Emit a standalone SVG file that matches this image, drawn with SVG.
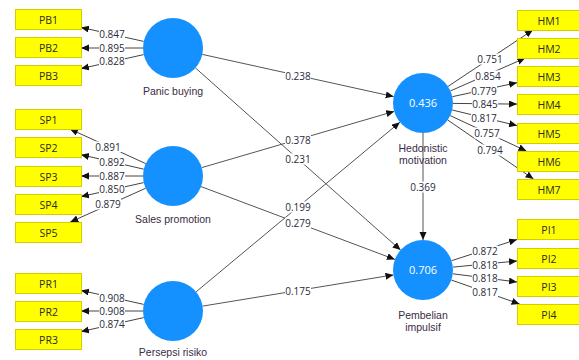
<svg xmlns="http://www.w3.org/2000/svg" width="579" height="360" viewBox="0 0 579 360">
<defs>
<marker id="ah" markerWidth="9" markerHeight="8" refX="8" refY="3.5" orient="auto" markerUnits="userSpaceOnUse"><path d="M0,0 L8,3.5 L0,7 z" fill="#111"/></marker>
<style>
.box{fill:#FFFF00;stroke:#D6CC00;stroke-width:1}
.bt{font-family:"Open Sans","DejaVu Sans",sans-serif;font-size:10.5px;fill:#2a2a2a;text-anchor:middle}
.lv{fill:#1591FF}
.lt{font-family:"Liberation Sans",Arial,sans-serif;font-size:10.5px;fill:#3b2b45;text-anchor:middle}
.r2{font-family:"Open Sans","DejaVu Sans",sans-serif;font-size:11px;fill:#ffffff;text-anchor:middle}
.ln{stroke:#444;stroke-width:1;fill:none;marker-end:url(#ah)}
.ls{stroke:#555;stroke-width:1;fill:none;marker-end:url(#ah)}
.nb{fill:#ffffff}
.nt{font-family:"Open Sans","DejaVu Sans",sans-serif;font-size:10px;fill:#2a2a3a;text-anchor:middle}
</style>
</defs>
<rect width="579" height="360" fill="#ffffff"/>
<g id="connectors">
<line class="ln" x1="143.7" y1="41.4" x2="81" y2="27.4"/>
<line class="ln" x1="143" y1="48" x2="81" y2="48"/>
<line class="ln" x1="143.7" y1="54.6" x2="81" y2="68.6"/>
<line class="ln" x1="145.7" y1="163.6" x2="69.9" y2="129"/>
<line class="ln" x1="143.8" y1="169.2" x2="81" y2="154.7"/>
<line class="ln" x1="143" y1="176" x2="81" y2="176"/>
<line class="ln" x1="143.7" y1="182.6" x2="81" y2="196.6"/>
<line class="ln" x1="145.6" y1="188.3" x2="70.3" y2="222"/>
<line class="ln" x1="143.7" y1="304.4" x2="81" y2="290.4"/>
<line class="ln" x1="143" y1="311" x2="81" y2="311"/>
<line class="ln" x1="143.7" y1="317.6" x2="81" y2="331.6"/>
<line class="ln" x1="448" y1="86.4" x2="532.9" y2="30"/>
<line class="ln" x1="450.5" y1="90.9" x2="525.3" y2="58"/>
<line class="ln" x1="452.3" y1="96.7" x2="517" y2="82.7"/>
<line class="ln" x1="453" y1="103.4" x2="517" y2="104.1"/>
<line class="ln" x1="452.2" y1="110" x2="517" y2="125.6"/>
<line class="ln" x1="450.2" y1="115.6" x2="526.4" y2="151"/>
<line class="ln" x1="447.7" y1="120" x2="533.5" y2="179"/>
<line class="ln" x1="451.5" y1="260.7" x2="517" y2="239.5"/>
<line class="ln" x1="452.9" y1="267.1" x2="517" y2="261"/>
<line class="ln" x1="452.8" y1="273.8" x2="517" y2="282"/>
<line class="ln" x1="451.3" y1="280" x2="519.6" y2="304"/>
<line class="ls" x1="202.3" y1="54.4" x2="393.7" y2="96.6"/>
<line class="ls" x1="195.4" y1="67.9" x2="400.6" y2="250.1"/>
<line class="ls" x1="201.8" y1="167.6" x2="394.2" y2="111.4"/>
<line class="ls" x1="201.1" y1="186.6" x2="394.9" y2="259.4"/>
<line class="ls" x1="196.1" y1="291.8" x2="399.9" y2="122.2"/>
<line class="ls" x1="202.6" y1="306.1" x2="393.4" y2="274.9"/>
<line class="ls" x1="423" y1="133" x2="423" y2="240"/>
<g>
<rect class="nb" x="99" y="28.5" width="26" height="11"/><text class="nt" x="112" y="37.5">0.847</text>
<rect class="nb" x="99" y="42.5" width="26" height="11"/><text class="nt" x="112" y="51.5">0.895</text>
<rect class="nb" x="99" y="56" width="26" height="11"/><text class="nt" x="112" y="65">0.828</text>
<rect class="nb" x="95" y="141.5" width="26" height="11"/><text class="nt" x="108" y="150.5">0.891</text>
<rect class="nb" x="99" y="156.5" width="26" height="11"/><text class="nt" x="112" y="165.5">0.892</text>
<rect class="nb" x="99" y="170.5" width="26" height="11"/><text class="nt" x="112" y="179.5">0.887</text>
<rect class="nb" x="99" y="183.5" width="26" height="11"/><text class="nt" x="112" y="192.5">0.850</text>
<rect class="nb" x="95" y="198.5" width="26" height="11"/><text class="nt" x="108" y="207.5">0.879</text>
<rect class="nb" x="99" y="292.5" width="26" height="11"/><text class="nt" x="112" y="301.5">0.908</text>
<rect class="nb" x="99" y="305.5" width="26" height="11"/><text class="nt" x="112" y="314.5">0.908</text>
<rect class="nb" x="99" y="318.5" width="26" height="11"/><text class="nt" x="112" y="327.5">0.874</text>
<rect class="nb" x="477" y="53.5" width="26" height="11"/><text class="nt" x="490" y="62.5">0.751</text>
<rect class="nb" x="475" y="70.5" width="26" height="11"/><text class="nt" x="488" y="79.5">0.854</text>
<rect class="nb" x="471" y="85.5" width="26" height="11"/><text class="nt" x="484" y="94.5">0.779</text>
<rect class="nb" x="472" y="98.5" width="26" height="11"/><text class="nt" x="485" y="107.5">0.845</text>
<rect class="nb" x="471" y="112.5" width="26" height="11"/><text class="nt" x="484" y="121.5">0.817</text>
<rect class="nb" x="474" y="127.5" width="26" height="11"/><text class="nt" x="487" y="136.5">0.757</text>
<rect class="nb" x="477" y="144.5" width="26" height="11"/><text class="nt" x="490" y="153.5">0.794</text>
<rect class="nb" x="472" y="245.5" width="26" height="11"/><text class="nt" x="485" y="254.5">0.872</text>
<rect class="nb" x="472" y="259.5" width="26" height="11"/><text class="nt" x="485" y="268.5">0.818</text>
<rect class="nb" x="472" y="272.5" width="26" height="11"/><text class="nt" x="485" y="281.5">0.818</text>
<rect class="nb" x="472" y="286.5" width="26" height="11"/><text class="nt" x="485" y="295.5">0.817</text>
<rect class="nb" x="285" y="70.5" width="26" height="11"/><text class="nt" x="298" y="79.5">0.238</text>
<rect class="nb" x="285" y="134.5" width="26" height="11"/><text class="nt" x="298" y="143.5">0.378</text>
<rect class="nb" x="285" y="153.5" width="26" height="11"/><text class="nt" x="298" y="162.5">0.231</text>
<rect class="nb" x="285" y="201.5" width="26" height="11"/><text class="nt" x="298" y="210.5">0.199</text>
<rect class="nb" x="285" y="217.5" width="26" height="11"/><text class="nt" x="298" y="226.5">0.279</text>
<rect class="nb" x="285" y="285.5" width="26" height="11"/><text class="nt" x="298" y="294.5">0.175</text>
<rect class="nb" x="410" y="181.5" width="26" height="11"/><text class="nt" x="423" y="190.5">0.369</text>
</g>
</g>
<g id="PB1"><rect class="box" x="15.5" y="9.5" width="66" height="20"/><text class="bt" x="48.5" y="23.5">PB1</text></g>
<g id="PB2"><rect class="box" x="15.5" y="37.5" width="66" height="20"/><text class="bt" x="48.5" y="51.5">PB2</text></g>
<g id="PB3"><rect class="box" x="15.5" y="65.5" width="66" height="20"/><text class="bt" x="48.5" y="79.5">PB3</text></g>
<g id="SP1"><rect class="box" x="15.5" y="109.5" width="66" height="20"/><text class="bt" x="48.5" y="123.5">SP1</text></g>
<g id="SP2"><rect class="box" x="15.5" y="137.5" width="66" height="20"/><text class="bt" x="48.5" y="151.5">SP2</text></g>
<g id="SP3"><rect class="box" x="15.5" y="166.5" width="66" height="20"/><text class="bt" x="48.5" y="180.5">SP3</text></g>
<g id="SP4"><rect class="box" x="15.5" y="194.5" width="66" height="20"/><text class="bt" x="48.5" y="208.5">SP4</text></g>
<g id="SP5"><rect class="box" x="15.5" y="222.5" width="66" height="20"/><text class="bt" x="48.5" y="236.5">SP5</text></g>
<g id="PR1"><rect class="box" x="15.5" y="273.5" width="66" height="20"/><text class="bt" x="48.5" y="287.5">PR1</text></g>
<g id="PR2"><rect class="box" x="15.5" y="301.5" width="66" height="20"/><text class="bt" x="48.5" y="315.5">PR2</text></g>
<g id="PR3"><rect class="box" x="15.5" y="329.5" width="66" height="20"/><text class="bt" x="48.5" y="343.5">PR3</text></g>
<g id="HM1"><rect class="box" x="517.5" y="10.5" width="62" height="20"/><text class="bt" x="549" y="24.5">HM1</text></g>
<g id="HM2"><rect class="box" x="517.5" y="38.5" width="62" height="20"/><text class="bt" x="549" y="52.5">HM2</text></g>
<g id="HM3"><rect class="box" x="517.5" y="66.5" width="62" height="20"/><text class="bt" x="549" y="80.5">HM3</text></g>
<g id="HM4"><rect class="box" x="517.5" y="94.5" width="62" height="20"/><text class="bt" x="549" y="108.5">HM4</text></g>
<g id="HM5"><rect class="box" x="517.5" y="123.5" width="62" height="20"/><text class="bt" x="549" y="137.5">HM5</text></g>
<g id="HM6"><rect class="box" x="517.5" y="151.5" width="62" height="20"/><text class="bt" x="549" y="165.5">HM6</text></g>
<g id="HM7"><rect class="box" x="517.5" y="179.5" width="62" height="20"/><text class="bt" x="549" y="193.5">HM7</text></g>
<g id="PI1"><rect class="box" x="517.5" y="219.5" width="62" height="20"/><text class="bt" x="549" y="233.5">PI1</text></g>
<g id="PI2"><rect class="box" x="517.5" y="248.5" width="62" height="20"/><text class="bt" x="549" y="262.5">PI2</text></g>
<g id="PI3"><rect class="box" x="517.5" y="276.5" width="62" height="20"/><text class="bt" x="549" y="290.5">PI3</text></g>
<g id="PI4"><rect class="box" x="517.5" y="304.5" width="62" height="20"/><text class="bt" x="549" y="318.5">PI4</text></g>
<g id="PanicBuying"><circle class="lv" cx="173" cy="48" r="30"/><text class="lt" x="173" y="95">Panic buying</text></g>
<g id="SalesPromotion"><circle class="lv" cx="173" cy="176" r="30"/><text class="lt" x="173" y="223">Sales promotion</text></g>
<g id="PersepsiRisiko"><circle class="lv" cx="173" cy="311" r="30"/><text class="lt" x="173" y="356">Persepsi risiko</text></g>
<g id="HedonisticMotivation"><circle class="lv" cx="423" cy="103" r="30"/><text class="r2" x="423" y="107">0.436</text><text class="lt" x="423" y="152">Hedonistic</text><text class="lt" x="423" y="164">motivation</text></g>
<g id="PembelianImpulsif"><circle class="lv" cx="423" cy="270" r="30"/><text class="r2" x="423" y="274">0.706</text><text class="lt" x="423" y="319">Pembelian</text><text class="lt" x="423" y="331">impulsif</text></g>
</svg>
